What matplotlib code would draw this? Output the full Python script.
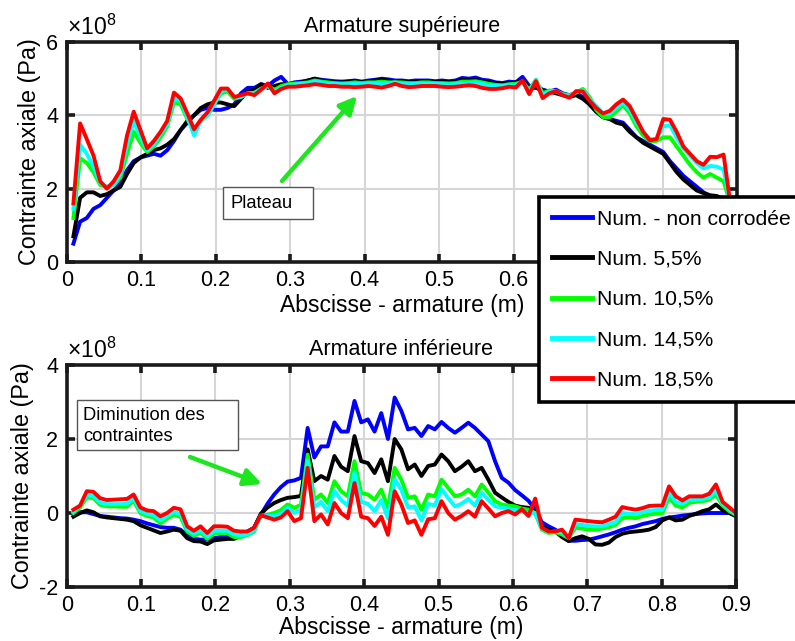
import numpy as np
import matplotlib
matplotlib.use("Agg")
import matplotlib.pyplot as plt
from matplotlib.patches import Rectangle, FancyArrowPatch

plt.rcParams['font.family'] = ['Liberation Sans', 'DejaVu Sans']
plt.rcParams['mathtext.default'] = 'regular'

# ---------------- data ----------------
# abscissa sampling (m): every 0.009 m
x_bot = np.round(np.arange(1, 101) * 0.009, 3)
x_top = x_bot[:99]

series_labels = ['Num. - non corrodée', 'Num. 5,5%', 'Num. 10,5%', 'Num. 14,5%', 'Num. 18,5%']
series_colors = ['#0000ff', '#000000', '#00ff00', '#00ffff', '#ff0000']

# Armature supérieure (x1e8 Pa)
top_blue = [0.5, 1.1, 1.2, 1.45, 1.55, 1.75, 1.95, 2.15, 2.5, 2.75,
            2.85, 2.9, 2.95, 2.9, 3.05, 3.3, 3.6, 3.8, 4.0, 4.15,
            4.2, 4.15, 4.15, 4.2, 4.3, 4.6, 4.75, 4.75, 4.85, 4.8,
            4.95, 5.05, 4.85,
            4.9, 4.92, 4.95, 5.0, 4.97, 4.95, 4.93, 4.92, 4.93, 4.95,
            4.92, 4.95, 4.97, 5.0, 4.98, 4.95, 4.95, 4.93, 4.95, 4.95,
            4.95, 4.93, 4.95, 4.93, 4.95, 5.02, 5.0, 5.03, 4.97, 4.95,
            4.9, 4.88, 4.92, 4.9,
            5.05, 4.8, 4.8, 4.7, 4.65, 4.7, 4.6, 4.55, 4.6, 4.5,
            4.3, 4.1, 3.95, 3.9, 3.85, 3.8, 3.6, 3.4, 3.3, 3.2,
            3.1, 3.0, 2.75, 2.55, 2.35, 2.2, 2.05, 1.9, 1.8, 1.75,
            1.65, 1.5]
top_black = [0.7, 1.75, 1.9, 1.9, 1.8, 1.85, 1.95, 2.05, 2.4, 2.7,
             2.85, 2.95, 3.05, 3.1, 3.2, 3.35, 3.6, 3.85, 4.0, 4.2,
             4.3, 4.35, 4.35, 4.3, 4.25, 4.45, 4.65, 4.7, 4.85, 4.75,
             4.8, 4.85, 4.85,
             4.88, 4.9, 4.95, 5.0, 4.95, 4.92, 4.9, 4.9, 4.92, 4.93,
             4.9, 4.92, 4.95, 4.97, 4.95, 4.92, 4.93, 4.9, 4.92, 4.93,
             4.92, 4.9, 4.92, 4.9, 4.92, 4.97, 4.95, 4.97, 4.93, 4.9,
             4.88, 4.86, 4.88, 4.9,
             4.95, 4.75, 4.75, 4.68, 4.65, 4.6, 4.55, 4.5, 4.55, 4.45,
             4.3, 4.1, 3.95, 3.9, 3.8, 3.75, 3.55, 3.4, 3.25, 3.15,
             3.05, 2.95, 2.7, 2.45, 2.25, 2.1, 1.95, 1.88, 1.82, 1.8,
             1.7, 1.5]
top_green = [1.2, 2.83, 2.7, 2.45, 2.1, 2.05, 2.1, 2.3, 2.95, 3.55,
             3.25, 3.0, 3.15, 3.4, 3.7, 4.35, 4.3, 3.9, 3.6, 3.85,
             4.0, 4.3, 4.6, 4.65, 4.45, 4.5, 4.6, 4.62, 4.72, 4.8,
             4.7, 4.8, 4.85,
             4.87, 4.88, 4.9, 4.95, 4.92, 4.9, 4.88, 4.87, 4.88, 4.9,
             4.88, 4.9, 4.9, 4.92, 4.9, 4.9, 4.9, 4.88, 4.88, 4.9,
             4.9, 4.88, 4.88, 4.87, 4.88, 4.92, 4.92, 4.93, 4.9, 4.86,
             4.83, 4.82, 4.85, 4.86,
             4.92, 4.7, 4.97, 4.6, 4.68, 4.65, 4.58, 4.55, 4.62, 4.72,
             4.5, 4.15, 3.95, 3.95, 4.1, 4.28, 4.05, 3.7, 3.45, 3.3,
             3.3, 3.4, 3.4, 3.15, 2.9, 2.65, 2.45, 2.3, 2.4, 2.3,
             2.2, 1.6]
top_cyan = [1.45, 3.2, 2.95, 2.6, 2.15, 2.05, 2.1, 2.4, 3.2, 3.85,
            3.4, 3.05, 3.2, 3.5, 3.75, 4.45, 4.4, 3.95, 3.45, 3.85,
            4.0, 4.3, 4.65, 4.7, 4.5, 4.5, 4.6, 4.6, 4.72, 4.8,
            4.65, 4.75, 4.82,
            4.84, 4.86, 4.88, 4.92, 4.9, 4.86, 4.86, 4.85, 4.85, 4.86,
            4.85, 4.87, 4.87, 4.88, 4.87, 4.9, 4.86, 4.85, 4.86, 4.87,
            4.86, 4.86, 4.85, 4.84, 4.85, 4.88, 4.88, 4.9, 4.86, 4.82,
            4.8, 4.8, 4.82, 4.83,
            4.92, 4.65, 4.96, 4.55, 4.65, 4.66, 4.57, 4.52, 4.64, 4.68,
            4.45, 4.25, 4.05, 4.05, 4.2, 4.35, 4.15, 3.8, 3.55, 3.35,
            3.35, 3.7, 3.73, 3.4, 3.1, 2.9, 2.7, 2.55, 2.62, 2.6,
            2.52, 1.6]
top_red = [1.6, 3.78, 3.35, 2.9, 2.2, 2.0, 2.2, 2.5, 3.45, 4.1,
           3.6, 3.1, 3.3, 3.55, 3.85, 4.62, 4.46, 4.05, 3.62, 3.88,
           4.08, 4.4, 4.73, 4.73, 4.5, 4.55, 4.6, 4.55, 4.7, 4.87,
           4.6, 4.72, 4.78,
           4.78, 4.8, 4.82, 4.85, 4.83, 4.8, 4.8, 4.78, 4.78, 4.77,
           4.78, 4.8, 4.78, 4.76, 4.8, 4.86, 4.8, 4.77, 4.78, 4.8,
           4.8, 4.8, 4.78, 4.77, 4.78, 4.8, 4.82, 4.8, 4.75, 4.72,
           4.72, 4.74, 4.78, 4.76,
           4.95, 4.58, 4.93, 4.47, 4.6, 4.66, 4.55, 4.48, 4.66, 4.65,
           4.4, 4.2, 4.05, 4.12, 4.3, 4.43, 4.25, 3.9, 3.55, 3.32,
           3.35, 3.9, 3.88, 3.55, 3.15, 2.95, 2.75, 2.65, 2.87, 2.86,
           2.93, 1.6]

# Armature inférieure (x1e8 Pa)
bot_blue = [0.0, 0.02, 0.02, -0.03, -0.08, -0.1, -0.12, -0.14, -0.15, -0.18,
            -0.22, -0.28, -0.33, -0.38, -0.4, -0.4, -0.45, -0.6, -0.7, -0.72,
            -0.72, -0.68, -0.65, -0.65, -0.63, -0.6, -0.5, -0.4, -0.05, 0.25,
            0.5, 0.7, 0.85, 0.88, 0.95, 2.3, 1.5, 1.8, 1.8, 2.45,
            2.2, 2.2, 3.03, 2.45, 2.53, 2.2, 2.7, 2.0, 3.12, 2.76,
            2.26, 2.3, 2.08, 2.35, 2.26, 2.46, 2.3, 2.17, 2.3, 2.44,
            2.3, 2.12, 1.94, 1.4, 0.95, 0.82, 0.62, 0.48, 0.33, 0.1,
            -0.25, -0.36, -0.45, -0.6, -0.75, -0.75, -0.73, -0.72, -0.68, -0.63,
            -0.58, -0.52, -0.45, -0.4, -0.36, -0.3, -0.26, -0.22, -0.16, -0.12,
            -0.1, -0.07, -0.05, -0.03, -0.01, 0.0, 0.0, 0.0, 0.0, -0.05]
bot_black = [-0.1, 0.0, 0.07, 0.02, -0.09, -0.12, -0.14, -0.16, -0.18, -0.22,
             -0.33, -0.4, -0.47, -0.54, -0.5, -0.45, -0.48, -0.68, -0.76, -0.77,
             -0.84, -0.74, -0.72, -0.7, -0.7, -0.62, -0.52, -0.4, -0.02, 0.15,
             0.27, 0.35, 0.41, 0.43, 0.46, 1.72, 0.86, 1.0, 0.9, 1.54,
             1.25, 1.13, 2.08, 1.4, 1.35, 1.08, 1.45, 0.86, 2.0, 1.72,
             1.18, 1.31, 1.0, 1.27, 1.31, 1.58, 1.4, 1.13, 1.25, 1.4,
             1.13, 1.22, 0.9, 0.55, 0.42, 0.3, 0.2, 0.16, 0.14, 0.02,
             -0.36, -0.45, -0.5, -0.65, -0.76, -0.68, -0.63, -0.7, -0.85, -0.86,
             -0.8, -0.65, -0.56, -0.52, -0.5, -0.48, -0.45, -0.38, -0.2, -0.12,
             -0.2, -0.18, -0.08, -0.02, 0.05, 0.1, 0.23, 0.08, 0.0, -0.09]
bot_green = [0.0, 0.15, 0.42, 0.4, 0.22, 0.18, 0.18, 0.17, 0.17, 0.33,
             0.0, -0.08, -0.12, -0.28, -0.15, -0.05, -0.1, -0.5, -0.62, -0.52,
             -0.7, -0.55, -0.55, -0.55, -0.65, -0.65, -0.6, -0.5, -0.07, -0.05,
             0.0, 0.08, 0.23, 0.14, 0.22, 1.58, 0.36, 0.5, 0.27, 0.86,
             0.59, 0.45, 1.4, 0.54, 0.5, 0.36, 0.63, 0.14, 1.22, 0.9,
             0.41, 0.45, 0.09, 0.5, 0.45, 0.9, 0.68, 0.45, 0.5, 0.63,
             0.45, 0.77, 0.55, 0.32, 0.23, 0.2, 0.18, 0.12, 0.09, 0.0,
             -0.45, -0.54, -0.52, -0.58, -0.68, -0.4, -0.42, -0.45, -0.45, -0.42,
             -0.38, -0.32, -0.14, -0.12, -0.14, -0.08, -0.04, -0.02, 0.0, 0.42,
             0.2, 0.15, 0.28, 0.3, 0.32, 0.36, 0.5, 0.2, 0.05, -0.05]
bot_cyan = [0.03, 0.2, 0.48, 0.45, 0.28, 0.24, 0.24, 0.24, 0.25, 0.4,
            0.05, -0.02, -0.06, -0.2, -0.08, 0.02, -0.02, -0.44, -0.56, -0.46,
            -0.64, -0.48, -0.48, -0.48, -0.58, -0.6, -0.58, -0.47, -0.08, -0.08,
            -0.08, -0.02, 0.14, 0.0, 0.08, 1.42, 0.15, 0.3, 0.05, 0.6,
            0.35, 0.2, 1.1, 0.3, 0.25, 0.05, 0.35, -0.15, 0.92, 0.62,
            0.15, 0.18, -0.2, 0.25, 0.2, 0.65, 0.4, 0.18, 0.25, 0.38,
            0.2, 0.55, 0.35, 0.18, 0.15, 0.12, 0.08, 0.05, 0.0, 0.0,
            -0.42, -0.52, -0.5, -0.52, -0.68, -0.3, -0.32, -0.35, -0.36, -0.36,
            -0.3, -0.25, 0.0, -0.02, -0.03, 0.02, 0.06, 0.08, 0.08, 0.55,
            0.3, 0.25, 0.36, 0.36, 0.38, 0.42, 0.6, 0.25, 0.1, -0.05]
bot_red = [0.09, 0.2, 0.59, 0.57, 0.4, 0.35, 0.36, 0.37, 0.38, 0.5,
           0.15, 0.07, 0.05, -0.09, 0.0, 0.14, 0.1, -0.36, -0.48, -0.36,
           -0.54, -0.36, -0.36, -0.37, -0.48, -0.5, -0.5, -0.4, -0.06, -0.12,
           -0.18, -0.12, 0.05, -0.22, -0.14, 1.22, -0.22, -0.04, -0.31, 0.27,
           0.0, -0.14, 0.81, -0.1, -0.14, -0.35, -0.1, -0.59, 0.59, 0.23,
           -0.27, -0.2, -0.59, -0.17, -0.14, 0.32, 0.0, -0.18, -0.08, 0.05,
           -0.1, 0.32, 0.12, -0.09, 0.0, 0.05, -0.04, 0.1, -0.08, 0.39,
           -0.4, -0.5, -0.5, -0.45, -0.68, -0.18, -0.2, -0.22, -0.24, -0.25,
           -0.18, -0.1, 0.16, 0.12, 0.09, 0.13, 0.19, 0.2, 0.2, 0.72,
           0.45, 0.34, 0.45, 0.45, 0.45, 0.52, 0.77, 0.3, 0.15, 0.0]

x_ticks = [0, 0.1, 0.2, 0.3, 0.4, 0.5, 0.6, 0.7, 0.8, 0.9]
x_ticklabels = ['0', '0.1', '0.2', '0.3', '0.4', '0.5', '0.6', '0.7', '0.8', '0.9']
top_yticks = [0, 2, 4, 6]
bot_yticks = [-2, 0, 2, 4]

top_series = [top_blue, top_black, top_green, top_cyan, top_red]
bot_series = [bot_blue, bot_black, bot_green, bot_cyan, bot_red]

# ---------------- figure ----------------
W, H = 795, 641
fig = plt.figure(figsize=(W / 100, H / 100), dpi=100)

def fx(px):
    return px / W

def fy(py):
    return 1 - py / H

ax1 = fig.add_axes([fx(66.7), fy(262), fx(737) - fx(66.7), fy(42) - fy(262)])
ax2 = fig.add_axes([fx(66.7), fy(587), fx(736) - fx(66.7), fy(365) - fy(587)])

LW = 2.8
handles = []
for ax, xs, series in ((ax1, x_top, top_series), (ax2, x_bot, bot_series)):
    for vals, col, lab in zip(series, series_colors, series_labels):
        h, = ax.plot(xs[:len(vals)], vals, color=col, lw=LW, label=lab)
        if ax is ax1:
            handles.append(h)

for ax, yt, title, lp in ((ax1, top_yticks, 'Armature supérieure', 2),
                          (ax2, bot_yticks, 'Armature inférieure', 0)):
    ax.set_xlim(0, 0.9)
    ax.set_ylim(yt[0], yt[-1])
    ax.set_xticks(x_ticks)
    ax.set_xticklabels(x_ticklabels)
    ax.set_yticks(yt)
    ax.set_yticklabels([str(v) for v in yt])
    ax.grid(True, color='#d6d6d6', lw=1.5)
    ax.set_axisbelow(True)
    for s in ax.spines.values():
        s.set_linewidth(2.6)
        s.set_color('#1a1a1a')
    ax.tick_params(direction='in', length=6, width=2.6, top=True, right=True,
                   labelsize=15.5, pad=6, colors='#1a1a1a', labelcolor='black')
    ax.set_title(title, fontsize=15.5, pad=7)
    ax.set_xlabel('Abscisse - armature (m)', fontsize=16.5, labelpad=lp)
    ax.set_ylabel('Contrainte axiale (Pa)', fontsize=16.8, labelpad=4)
    ax.text(0.0, 1.008, r'$\times10^{8}$', transform=ax.transAxes,
            fontsize=16.5, ha='left', va='bottom')

# annotation boxes and arrows
arrow_col = '#1ee61e'
fig.add_artist(Rectangle((fx(222.5), fy(218.5)), fx(313) - fx(222.5), fy(187) - fy(218.5),
                         transform=fig.transFigure, fc='white', ec='#555555', lw=1.0))
fig.text(fx(230), fy(203), 'Plateau', fontsize=13.2, ha='left', va='center')
fig.add_artist(Rectangle((fx(76.7), fy(450)), fx(238.3) - fx(76.7), fy(400) - fy(450),
                         transform=fig.transFigure, fc='white', ec='#555555', lw=1.0))
fig.text(fx(83.3), fy(426), 'Diminution des\ncontraintes', fontsize=13.2,
         ha='left', va='center', linespacing=1.25)

for (x0, y0, x1, y1) in ((282, 181, 357, 96), (190, 457, 262, 484)):
    fig.add_artist(FancyArrowPatch(
        (fx(x0), fy(y0)), (fx(x1), fy(y1)), transform=fig.transFigure,
        arrowstyle='-|>', mutation_scale=26, color=arrow_col, lw=3.2,
        shrinkA=0, shrinkB=0))

leg = fig.legend(handles=handles, labels=series_labels, loc='upper left',
                 bbox_to_anchor=(fx(539), fy(197)), bbox_transform=fig.transFigure,
                 borderaxespad=0, fancybox=False, framealpha=1, edgecolor='black',
                 fontsize=15.2, handlelength=1.9, handletextpad=0.25,
                 labelspacing=1.0, borderpad=0.6)
leg.get_frame().set_linewidth(2.6)
for lh in leg.get_lines():
    lh.set_linewidth(3.5)

fig.savefig('out.png', dpi=100)
